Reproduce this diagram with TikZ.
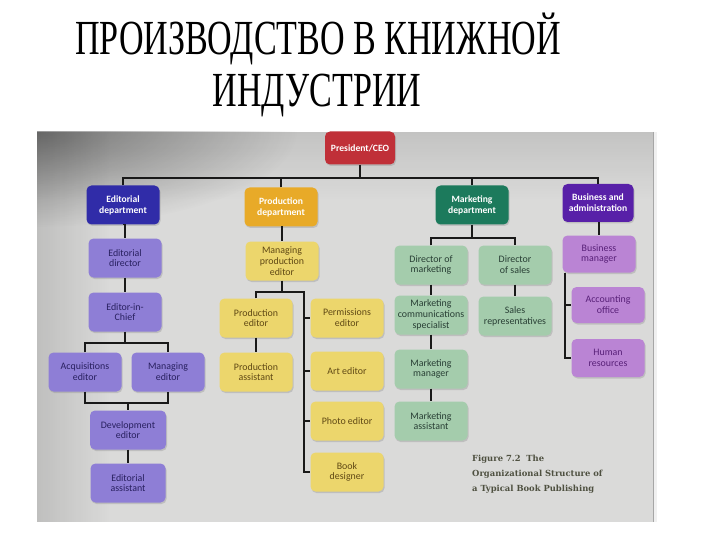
\documentclass[tikz,border=0pt]{standalone}
\usepackage{graphicx}
\usepackage{fontspec}
\setmainfont{Liberation Serif}
\newfontfamily\boxfont{Carlito}
\newfontfamily\capfont{DejaVu Serif}
\usetikzlibrary{shadows,fadings,calc}
\definecolor{phbg}{RGB}{218,218,217}
\definecolor{cpres}{RGB}{192,48,56}
\definecolor{cedd}{RGB}{48,44,168}
\definecolor{ceds}{RGB}{142,126,214}
\definecolor{cedt}{RGB}{40,32,95}
\definecolor{cprd}{RGB}{232,170,40}
\definecolor{cprs}{RGB}{236,214,108}
\definecolor{cprt}{RGB}{95,72,20}
\definecolor{cmkd}{RGB}{28,122,92}
\definecolor{cmks}{RGB}{164,204,172}
\definecolor{cmkt}{RGB}{40,62,52}
\definecolor{cbsd}{RGB}{88,32,168}
\definecolor{cbss}{RGB}{186,132,212}
\definecolor{cbst}{RGB}{88,32,120}
\definecolor{ccap}{RGB}{78,80,64}
\tikzfading[name=fadeR, left color=transparent!0, right color=transparent!100]
\tikzfading[name=fadeD, top color=transparent!0, bottom color=transparent!100]
\tikzfading[name=radfade, inner color=transparent!0, outer color=transparent!100]
\begin{document}
\begin{tikzpicture}[x=1pt,y=-1pt,
  box/.style={rounded corners=5pt, minimum width=73pt, minimum height=39pt,
    inner sep=1pt, align=center, font=\boxfont\fontsize{9.9}{10.8}\selectfont,
    drop shadow={opacity=0.3, shadow xshift=1pt, shadow yshift=-1.5pt}},
  dept/.style={box, font=\boxfont\bfseries\fontsize{9.6}{10.8}\selectfont, text=white},
  eds/.style={box, fill=ceds, text=cedt},
  prs/.style={box, fill=cprs, text=cprt},
  mks/.style={box, fill=cmks, text=cmkt},
  bss/.style={box, fill=cbss, text=cbst},
  conn/.style={draw=black!90, line width=1.2pt},
  ttl/.style={anchor=base, font=\fontsize{49}{50}\selectfont}]
\useasboundingbox (0,0) rectangle (720,540);
\fill[white] (0,0) rectangle (720,540);
% title
\node[ttl] (t1) at (318,55) {\scalebox{0.695}[1]{ПРОИЗВОДСТВО В КНИЖНОЙ}};
\node[ttl] (t2) at (317,107) {\scalebox{0.695}[1]{ИНДУСТРИИ}};
% photo background
\fill[phbg] (37,132) rectangle (653,522);
\begin{scope}
\clip (37,132) rectangle (653,522);
\fill[black, opacity=0.12, path fading=fadeR] (37,132) rectangle (110,522);
\fill[black, opacity=0.10, path fading=fadeD] (37,132) rectangle (653,200);
\fill[black, opacity=0.40, path fading=radfade]
  (37,132) ellipse [x radius=260pt, y radius=95pt];
\end{scope}
\draw[black!35, line width=0.8pt] (653,132) -- (653,522);
\fill[black!6] (653.5,132) rectangle (657,522);
% nodes
\node[box, fill=cpres, text=white, minimum width=70pt, minimum height=33pt,
  font=\boxfont\bfseries\fontsize{9.6}{10.8}\selectfont] (pres) at (360,148) {President/CEO};
\node[dept, fill=cedd] (ed) at (123,205) {Editorial\\department};
\node[dept, fill=cprd] (pd) at (281,207) {Production\\department};
\node[dept, fill=cmkd] (md) at (472,205) {Marketing\\department};
\node[dept, fill=cbsd, minimum width=71pt, minimum height=38pt] (bd) at (598,203) {Business and\\administration};
\node[eds] (edir) at (125,258) {Editorial\\director};
\node[prs] (mpe) at (282,261) {Managing\\production\\editor};
\node[mks] (dom) at (431,265) {Director of\\marketing};
\node[mks] (dos) at (515,265) {Director\\of sales};
\node[bss, minimum height=37pt] (bm) at (599,254) {Business\\manager};
\node[eds] (eic) at (125,312) {Editor-in-\\Chief};
\node[prs] (pe) at (256,318) {Production\\editor};
\node[prs] (perm) at (347,318) {Permissions\\editor};
\node[mks] (mcs) at (431,315) {Marketing\\communications\\specialist};
\node[mks] (sr) at (515,316) {Sales\\representatives};
\node[bss, minimum height=36pt] (acc) at (608,305) {Accounting\\office};
\node[eds] (acq) at (85,372) {Acquisitions\\editor};
\node[eds] (me) at (168,372) {Managing\\editor};
\node[prs] (pa) at (256,372) {Production\\assistant};
\node[prs] (art) at (347,371) {Art editor};
\node[mks] (mm) at (431,369) {Marketing\\manager};
\node[bss, minimum height=38pt] (hr) at (608,358) {Human\\resources};
\node[prs] (photo) at (347,421) {Photo editor};
\node[mks] (ma) at (431,421) {Marketing\\assistant};
\node[eds, minimum width=76pt] (dev) at (128,430) {Development\\editor};
\node[eds, minimum width=75pt] (ea) at (128,483) {Editorial\\assistant};
\node[prs] (book) at (347,472) {Book\\designer};
% junction coordinates
\coordinate (bus) at (360,178);
\coordinate (ej) at (125,343);
\coordinate (ek) at (127,403);
\coordinate (pj) at (282,292);
\coordinate (pv) at (304,292);
\coordinate (mj) at (472,238);
\coordinate (bv) at (565,300);
% connectors
\draw[conn] (pres.south) -- (bus);
\draw[conn] (ed.north) -- (ed.north |- bus) -- (bd.north |- bus) -- (bd.north);
\draw[conn] (pd.north) -- (pd.north |- bus);
\draw[conn] (md.north) -- (md.north |- bus);
\draw[conn] (ed.south) -- (ed.south -| edir.north) -- (edir.north);
\draw[conn] (edir.south) -- (eic.north);
\draw[conn] (eic.south) -- (eic.south |- ej);
\draw[conn] (acq.north) -- (acq.north |- ej) -| (me.north);
\draw[conn] (acq.south) -- (acq.south |- ek) -| (me.south);
\draw[conn] (ek -| dev.north) -- (dev.north);
\draw[conn] (dev.south) -- (ea.north);
\draw[conn] (pd.south) -- (pd.south -| mpe.north) -- (mpe.north);
\draw[conn] (mpe.south) -- (pj);
\draw[conn] (pe.north) -- (pe.north |- pj) -- (pv) -- (pv |- book.west) -- (book.west);
\draw[conn] (pv |- perm.west) -- (perm.west);
\draw[conn] (pv |- art.west) -- (art.west);
\draw[conn] (pv |- photo.west) -- (photo.west);
\draw[conn] (pe.south) -- (pa.north);
\draw[conn] (md.south) -- (mj);
\draw[conn] (dom.north) -- (dom.north |- mj) -| (dos.north);
\draw[conn] (dom.south) -- (mcs.north);
\draw[conn] (mcs.south) -- (mm.north);
\draw[conn] (mm.south) -- (ma.north);
\draw[conn] (dos.south) -- (sr.north);
\draw[conn] (bd.south) -- (bd.south -| bm.north) -- (bm.north);
\draw[conn] (bm.south -| bv) -- (bv |- hr.west) -- (hr.west);
\draw[conn] (bv |- acc.west) -- (acc.west);
% caption
\begin{scope}
\clip (37,132) rectangle (653,522);
\node[anchor=base west, align=left, text=ccap, inner sep=0pt,
  font=\capfont\bfseries\fontsize{8.4}{15}\selectfont] (cap) at (472,491)
  {Figure 7.2\ \ The\\Organizational Structure of\\a Typical Book Publishing};
\end{scope}
\end{tikzpicture}
\end{document}
